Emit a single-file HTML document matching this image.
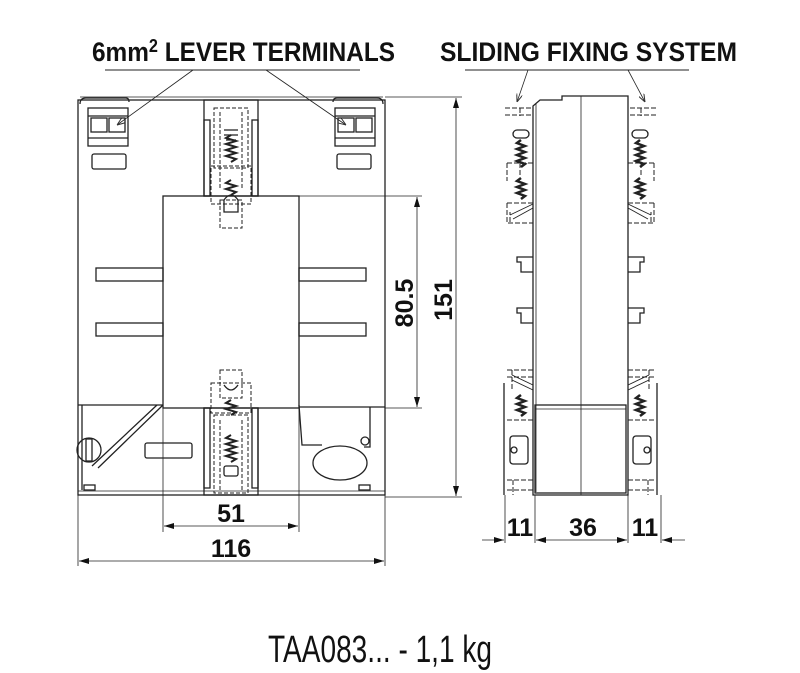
<!DOCTYPE html>
<html><head><meta charset="utf-8"><style>
html,body{margin:0;padding:0;background:#fff;}
svg{display:block}
.t{font-family:"Liberation Sans Narrow","Liberation Sans",sans-serif;font-weight:bold;fill:#111}
</style></head><body>
<svg width="800" height="673" viewBox="0 0 800 673" xmlns="http://www.w3.org/2000/svg">
<defs>
<marker id="a" viewBox="0 0 10 6" refX="10" refY="3" markerWidth="12" markerHeight="6" orient="auto-start-reverse" markerUnits="userSpaceOnUse"><path d="M0,0 L10,3 L0,6z" fill="#111"/></marker>
<marker id="s" viewBox="0 0 8 6" refX="8" refY="3" markerWidth="8" markerHeight="6" orient="auto" markerUnits="userSpaceOnUse"><path d="M0,0 L8,3 L0,6" fill="none" stroke="#333"/></marker>
</defs>
<g fill="none" stroke="#222" stroke-width="1.3">
<!-- headers -->
<text class="t" x="92" y="61" font-size="27" textLength="303" lengthAdjust="spacingAndGlyphs" stroke="none">6mm<tspan font-size="18" dy="-9">2</tspan><tspan dy="9"> LEVER TERMINALS</tspan></text>
<text class="t" x="440" y="61" font-size="27" textLength="297" lengthAdjust="spacingAndGlyphs" stroke="none">SLIDING FIXING SYSTEM</text>
<line x1="105" y1="70" x2="360" y2="70" stroke-width="1"/>
<line x1="465" y1="70" x2="689" y2="70" stroke-width="1"/>
<line x1="193" y1="70" x2="117" y2="125" stroke-width="0.8" marker-end="url(#s)"/>
<line x1="266" y1="70" x2="346" y2="125" stroke-width="0.8" marker-end="url(#s)"/>
<line x1="528" y1="70" x2="517" y2="102" stroke-width="0.8" marker-end="url(#s)"/>
<line x1="628" y1="70" x2="645" y2="102" stroke-width="0.8" marker-end="url(#s)"/>

<!-- FRONT VIEW -->
<rect x="78" y="100" width="307" height="395"/>
<line x1="78" y1="491" x2="385" y2="491" stroke-width="0.8"/>
<line x1="80" y1="97" x2="383" y2="97" stroke-width="0.8"/>
<rect x="163" y="196" width="136" height="212"/>
<line x1="78" y1="405" x2="163" y2="405"/>
<line x1="299" y1="407" x2="385" y2="407"/>
<rect x="96" y="268" width="67" height="13"/><rect x="96" y="323" width="67" height="13"/>
<rect x="299" y="268" width="67" height="13"/><rect x="299" y="323" width="67" height="13"/>
<rect x="92" y="154" width="34" height="15" rx="2"/><rect x="337" y="154" width="34" height="15" rx="2"/>
<rect x="145" y="443" width="47" height="15" rx="2"/>
<rect x="84" y="485" width="11" height="5"/><rect x="359" y="485" width="11" height="5"/>
<g><rect x="88" y="108" width="40" height="38"/><line x1="88" y1="116" x2="128" y2="116"/><rect x="91" y="118" width="16" height="14"/><rect x="109" y="118" width="16" height="14"/><line x1="88" y1="138" x2="128" y2="138"/><path d="M80,104 q0,-6 6,-6 h40 q3,0 3,4"/></g>
<g><rect x="335" y="108" width="40" height="38"/><line x1="335" y1="116" x2="375" y2="116"/><rect x="338" y="118" width="16" height="14"/><rect x="356" y="118" width="16" height="14"/><line x1="335" y1="138" x2="375" y2="138"/><path d="M333,102 q0,-4 4,-4 h40 q6,0 6,6"/></g>
<rect x="204" y="100" width="54" height="96"/>
<rect x="204" y="120" width="6" height="76"/><rect x="252" y="120" width="6" height="76"/>
<g stroke-dasharray="4,2" stroke-width="1"><rect x="214" y="108" width="34" height="60"/><rect x="211" y="166" width="40" height="38"/><rect x="220" y="200" width="22" height="28"/><line x1="220" y1="112" x2="220" y2="190"/><line x1="242" y1="112" x2="242" y2="190"/></g>
<path d="M224,130 h14 M226,140 l10,0 M224,135 l14,0" />
<path d="M231,135 l-5,3 l10,3 l-10,3 l10,3 l-10,3 l10,3 l-10,3 l10,3 l-5,3" stroke-width="2"/>
<path d="M231,180 l-5,3 l10,3 l-10,3 l10,3 l-5,3" stroke-width="2"/>
<path d="M224,200 q7,-10 14,0 v12 h-14z"/>
<rect x="204" y="408" width="54" height="87"/>
<rect x="204" y="408" width="6" height="80"/><rect x="252" y="408" width="6" height="80"/>
<g stroke-dasharray="4,2" stroke-width="1"><rect x="220" y="370" width="22" height="28"/><rect x="211" y="383" width="40" height="30"/><rect x="214" y="415" width="34" height="78"/><line x1="220" y1="420" x2="220" y2="490"/><line x1="242" y1="420" x2="242" y2="490"/></g>
<path d="M231,400 l-5,3 l10,3 l-10,3 l10,3 l-5,3" stroke-width="2"/>
<path d="M231,435 l-5,3 l10,3 l-10,3 l10,3 l-10,3 l10,3 l-10,3 l10,3 l-5,3" stroke-width="2"/>
<path d="M224,385 q7,10 14,0"/><rect x="224" y="466" width="14" height="10" rx="2"/>
<path d="M82,405 v85 M163,405 L98,468 M157,405 L92,466"/>
<circle cx="89" cy="450" r="12"/><rect x="86" y="439" width="6" height="22"/>
<path d="M299,405 l3,40 h20 M370,407 v40 h-6"/>
<ellipse cx="340" cy="463" rx="27" ry="17"/><circle cx="365" cy="441" r="4"/>

<!-- dims front -->
<line x1="299" y1="196" x2="422" y2="196" stroke-width="0.8"/>
<line x1="385" y1="408" x2="422" y2="408" stroke-width="0.8"/>
<line x1="385" y1="97" x2="462" y2="97" stroke-width="0.8"/>
<line x1="385" y1="497" x2="462" y2="497" stroke-width="0.8"/>
<line x1="417" y1="197" x2="417" y2="407" stroke-width="0.8" marker-start="url(#a)" marker-end="url(#a)"/>
<line x1="456" y1="98" x2="456" y2="496" stroke-width="0.8" marker-start="url(#a)" marker-end="url(#a)"/>
<text class="t" font-size="25" stroke="none" transform="translate(413,303) rotate(-90)" text-anchor="middle">80.5</text>
<text class="t" font-size="25" stroke="none" transform="translate(452,300) rotate(-90)" text-anchor="middle">151</text>
<line x1="163" y1="408" x2="163" y2="532" stroke-width="0.8"/>
<line x1="299" y1="408" x2="299" y2="532" stroke-width="0.8"/>
<line x1="78" y1="495" x2="78" y2="566" stroke-width="0.8"/>
<line x1="385" y1="495" x2="385" y2="566" stroke-width="0.8"/>
<line x1="164" y1="526" x2="298" y2="526" stroke-width="0.8" marker-start="url(#a)" marker-end="url(#a)"/>
<line x1="79" y1="561" x2="384" y2="561" stroke-width="0.8" marker-start="url(#a)" marker-end="url(#a)"/>
<text class="t" x="231" y="522" font-size="25" stroke="none" text-anchor="middle">51</text>
<text class="t" x="231" y="557" font-size="25" stroke="none" text-anchor="middle">116</text>

<!-- SIDE VIEW -->
<path d="M533,495 V106 L540,100 H562 V96 H628 V495 Z"/>
<line x1="536" y1="104" x2="536" y2="492" stroke-width="0.8"/>
<line x1="581" y1="96" x2="581" y2="495" stroke-width="0.8"/>
<rect x="535" y="405" width="91" height="88"/>
<line x1="535" y1="409" x2="626" y2="409" stroke-width="0.8"/>
<g stroke-dasharray="5,2" stroke-width="1">
<path d="M505,108 h28 M505,115 h28 M520,108 v8 M507,163 h26 M507,163 v18 M507,203 h28 M507,203 v20 h26 M510,222 v-10 M520,175 v-12"/>
<path d="M656,108 h-28 M656,115 h-28 M641,108 v8 M654,163 h-26 M654,163 v18 M654,203 h-28 M654,203 v20 h-26 M651,222 v-10 M641,175 v-12"/>
<path d="M507,370 h26 M507,377 h26 M512,370 v20 M507,420 h26 M507,480 h26 M507,490 h26 M513,480 v15"/>
<path d="M654,370 h-26 M654,377 h-26 M649,370 v20 M654,420 h-26 M654,480 h-26 M654,490 h-26 M648,480 v15"/>
</g>
<rect x="513" y="130" width="16" height="8" rx="4"/><rect x="632" y="130" width="16" height="8" rx="4"/>
<path d="M521,140 l-4,3 l8,3 l-8,3 l8,3 l-8,3 l8,3 l-8,3 l8,3 l-4,3" stroke-width="2.5"/>
<path d="M521,178 l-4,3 l8,3 l-8,3 l8,3 l-8,3 l8,3 l-4,3" stroke-width="2.5"/>
<path d="M640,140 l-4,3 l8,3 l-8,3 l8,3 l-8,3 l8,3 l-8,3 l8,3 l-4,3" stroke-width="2.5"/>
<path d="M640,178 l-4,3 l8,3 l-8,3 l8,3 l-8,3 l8,3 l-4,3" stroke-width="2.5"/>
<path d="M521,395 l-4,3 l8,3 l-8,3 l8,3 l-8,3 l8,3 l-4,3" stroke-width="2.5"/>
<path d="M640,395 l-4,3 l8,3 l-8,3 l8,3 l-8,3 l8,3 l-4,3" stroke-width="2.5"/>
<path d="M533,204 L510,215 M533,208 L513,219 M628,204 L651,215 M628,208 L648,219" stroke-width="0.9"/>
<path d="M533,385 L512,375 M533,390 L512,380 M628,385 L649,375 M628,390 L649,380" stroke-width="0.9"/>
<path d="M533,272 h-12 v-10 h-4 v-5 h16 M533,323 h-12 v-10 h-4 v-5 h16"/>
<path d="M628,272 h12 v-10 h4 v-5 h-16 M628,323 h12 v-10 h4 v-5 h-16"/>
<path d="M504,383 v112 M657,383 v112"/>
<rect x="510" y="436" width="18" height="28" rx="3"/><rect x="633" y="436" width="18" height="28" rx="3"/>
<circle cx="514" cy="450" r="3"/><circle cx="647" cy="450" r="3"/>

<line x1="505" y1="495" x2="505" y2="543" stroke-width="0.8"/>
<line x1="535" y1="495" x2="535" y2="543" stroke-width="0.8"/>
<line x1="628" y1="495" x2="628" y2="543" stroke-width="0.8"/>
<line x1="661" y1="495" x2="661" y2="543" stroke-width="0.8"/>
<line x1="482" y1="540" x2="504" y2="540" stroke-width="0.8" marker-end="url(#a)"/>
<line x1="536" y1="540" x2="627" y2="540" stroke-width="0.8" marker-start="url(#a)" marker-end="url(#a)"/>
<line x1="685" y1="540" x2="662" y2="540" stroke-width="0.8" marker-end="url(#a)"/>
<text class="t" x="520" y="536" font-size="25" stroke="none" text-anchor="middle">11</text>
<text class="t" x="583" y="536" font-size="25" stroke="none" text-anchor="middle">36</text>
<text class="t" x="645" y="536" font-size="25" stroke="none" text-anchor="middle">11</text>

<text x="268" y="662" font-family="'Liberation Sans Narrow','Liberation Sans',sans-serif" font-size="38" fill="#111" stroke="none" textLength="224" lengthAdjust="spacingAndGlyphs">TAA083... - 1,1 kg</text>
</g>
</svg>
</body></html>
